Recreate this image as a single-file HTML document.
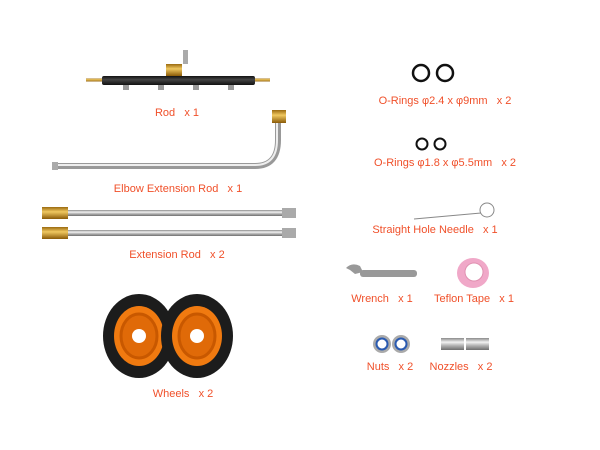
<!DOCTYPE html>
<html><head><meta charset="utf-8"><style>
html,body{margin:0;padding:0;background:#fff;}
svg{display:block}
text{font-family:"Liberation Sans",sans-serif;font-size:11px;fill:#f0502a;text-anchor:middle;white-space:pre}
</style></head><body>
<svg width="600" height="450" viewBox="0 0 600 450" xml:space="preserve">
<defs>
<linearGradient id="steel" x1="0" y1="0" x2="0" y2="1">
<stop offset="0" stop-color="#8a8a8a"/><stop offset=".35" stop-color="#f2f2f2"/><stop offset=".6" stop-color="#b8b8b8"/><stop offset="1" stop-color="#6e6e6e"/></linearGradient>
<linearGradient id="brass" x1="0" y1="0" x2="0" y2="1">
<stop offset="0" stop-color="#9a6a10"/><stop offset=".4" stop-color="#f0c860"/><stop offset="1" stop-color="#8a5a08"/></linearGradient>
<linearGradient id="blk" x1="0" y1="0" x2="0" y2="1">
<stop offset="0" stop-color="#111"/><stop offset=".4" stop-color="#444"/><stop offset="1" stop-color="#111"/></linearGradient>
</defs>
<rect x="86" y="78.5" width="18" height="3" fill="url(#brass)"/>
<rect x="254" y="78.5" width="16" height="3" fill="url(#brass)"/>
<rect x="102" y="76" width="153" height="9" rx="2" fill="url(#blk)"/>
<rect x="123" y="85" width="6" height="5" fill="#999"/><rect x="158" y="85" width="6" height="5" fill="#999"/>
<rect x="193" y="85" width="6" height="5" fill="#999"/><rect x="228" y="85" width="6" height="5" fill="#999"/>
<rect x="166" y="64" width="16" height="12" fill="url(#brass)"/>
<rect x="183" y="50" width="5" height="14" fill="#aaa"/>
<text x="177" y="116">Rod   x 1</text>
<path d="M55 166 H255 Q278 166 278 140 V122" fill="none" stroke="#999" stroke-width="6"/>
<path d="M55 165 H255 Q277 165 277 140 V122" fill="none" stroke="#eee" stroke-width="2"/>
<rect x="272" y="110" width="14" height="13" fill="url(#brass)"/>
<rect x="52" y="162" width="6" height="8" fill="#aaa"/>
<text x="178" y="192">Elbow Extension Rod   x 1</text>
<rect x="45" y="210" width="250" height="6" fill="url(#steel)"/>
<rect x="45" y="230" width="250" height="6" fill="url(#steel)"/>
<rect x="42" y="207" width="26" height="12" fill="url(#brass)"/>
<rect x="42" y="227" width="26" height="12" fill="url(#brass)"/>
<rect x="282" y="208" width="14" height="10" fill="#aaa"/>
<rect x="282" y="228" width="14" height="10" fill="#aaa"/>
<text x="177" y="258">Extension Rod   x 2</text>
<g>
<ellipse cx="139" cy="336" rx="36" ry="42" fill="#1c1c1c"/>
<ellipse cx="139" cy="336" rx="25" ry="30" fill="#f07a10"/>
<ellipse cx="139" cy="336" rx="18" ry="22" fill="#e06a08" stroke="#c85800" stroke-width="3"/>
<circle cx="139" cy="336" r="7" fill="#fff"/>
</g>
<g>
<ellipse cx="197" cy="336" rx="36" ry="42" fill="#1c1c1c"/>
<ellipse cx="197" cy="336" rx="25" ry="30" fill="#f07a10"/>
<ellipse cx="197" cy="336" rx="18" ry="22" fill="#e06a08" stroke="#c85800" stroke-width="3"/>
<circle cx="197" cy="336" r="7" fill="#fff"/>
</g>
<text x="183" y="397">Wheels   x 2</text>
<circle cx="421" cy="73" r="8" fill="none" stroke="#111" stroke-width="2.5"/>
<circle cx="445" cy="73" r="8" fill="none" stroke="#111" stroke-width="2.5"/>
<text x="445" y="104">O-Rings φ2.4 x φ9mm   x 2</text>
<circle cx="422" cy="144" r="5.5" fill="none" stroke="#111" stroke-width="2"/>
<circle cx="440" cy="144" r="5.5" fill="none" stroke="#111" stroke-width="2"/>
<text x="445" y="166">O-Rings φ1.8 x φ5.5mm   x 2</text>
<line x1="414" y1="219" x2="481" y2="213" stroke="#888" stroke-width="1"/>
<circle cx="487" cy="210" r="7" fill="none" stroke="#888" stroke-width="1"/>
<text x="435" y="233">Straight Hole Needle   x 1</text>
<rect x="360" y="270" width="57" height="7" rx="3" fill="#999"/>
<path d="M346 268 Q352 262 360 266 L363 272 L355 274 L350 270 Z" fill="#999"/>
<text x="382" y="302">Wrench   x 1</text>
<ellipse cx="473" cy="273" rx="16" ry="15" fill="#f0a8c8"/>
<ellipse cx="474" cy="272" rx="9" ry="9" fill="#fff" stroke="#e090b0"/>
<text x="474" y="302">Teflon Tape   x 1</text>
<circle cx="382" cy="344" r="9" fill="#aaa"/><circle cx="382" cy="344" r="5.5" fill="#fff" stroke="#2a5ab0" stroke-width="2"/>
<circle cx="401" cy="344" r="9" fill="#aaa"/><circle cx="401" cy="344" r="5.5" fill="#fff" stroke="#2a5ab0" stroke-width="2"/>
<text x="390" y="370">Nuts   x 2</text>
<rect x="441" y="338" width="23" height="12" fill="url(#steel)"/>
<rect x="466" y="338" width="23" height="12" fill="url(#steel)"/>
<text x="461" y="370">Nozzles   x 2</text>
</svg>
</body></html>
